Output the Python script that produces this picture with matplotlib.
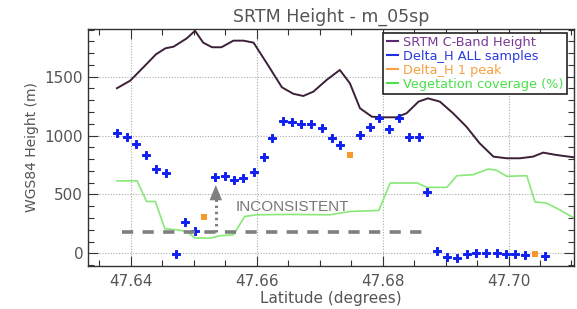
import matplotlib
matplotlib.use("Agg")
import matplotlib.pyplot as plt
from matplotlib.ticker import MultipleLocator
from matplotlib.lines import Line2D

# SRTM C-Band height (m)
srtm_lat = [47.6378, 47.6399, 47.6420, 47.6440, 47.6455, 47.6468, 47.6489, 47.6502,
            47.6515, 47.6529, 47.6544, 47.6563, 47.6579, 47.6595, 47.6616, 47.6640,
            47.6658, 47.6674, 47.6690, 47.6711, 47.6732, 47.6748, 47.6764, 47.6783,
            47.6801, 47.6822, 47.6838, 47.6857, 47.6872, 47.6891, 47.6912, 47.6933,
            47.6954, 47.6976, 47.6997, 47.7018, 47.7039, 47.7055, 47.7076, 47.7104]
srtm_h = [1402, 1466, 1580, 1690, 1741, 1755, 1826, 1890,
          1789, 1750, 1750, 1806, 1806, 1789, 1614, 1410,
          1355, 1336, 1373, 1472, 1557, 1444, 1232, 1160,
          1155, 1155, 1189, 1288, 1316, 1288, 1189, 1076,
          935, 821, 807, 807, 821, 855, 835, 815]

# Delta_H ALL samples
all_lat = [47.6378, 47.6394, 47.6408, 47.6424, 47.6440, 47.6456, 47.6471, 47.6486,
           47.6502, 47.6533, 47.6549, 47.6564, 47.6579, 47.6595, 47.6611, 47.6625,
           47.6641, 47.6656, 47.6671, 47.6687, 47.6703, 47.6719, 47.6733, 47.6764,
           47.6780, 47.6795, 47.6810, 47.6826, 47.6842, 47.6858, 47.6871, 47.6887,
           47.6903, 47.6918, 47.6934, 47.6949, 47.6965, 47.6981, 47.6996, 47.7011,
           47.7026, 47.7058]
all_h = [1020, 986, 929, 832, 716, 680, -6, 269,
         193, 646, 660, 623, 637, 694, 821, 977,
         1122, 1118, 1096, 1096, 1062, 977, 920, 1005,
         1076, 1147, 1053, 1147, 986, 991, 522, 22,
         -29, -42, -8, 0, 0, 0, -6, -6,
         -14, -23]

# Delta_H 1 peak
peak_lat = [47.6517, 47.6748, 47.7042]
peak_h = [306, 835, -6]

# Vegetation coverage (%), drawn on the height scale
veg_lat = [47.6378, 47.6410, 47.6425, 47.6439, 47.6454, 47.6473, 47.6489, 47.6502,
           47.6526, 47.6542, 47.6563, 47.6581, 47.6600, 47.6650, 47.6716, 47.6748,
           47.6794, 47.6812, 47.6855, 47.6870, 47.6902, 47.6918, 47.6944, 47.6968,
           47.6981, 47.6997, 47.7029, 47.7042, 47.7060, 47.7081, 47.7104]
veg_v = [615, 615, 440, 440, 208, 200, 185, 129,
         129, 149, 157, 313, 327, 330, 327, 355,
         364, 597, 597, 560, 560, 659, 668, 716,
         705, 654, 659, 436, 427, 370, 300]

# Inconsistent reference level
incons_lat = [47.6386, 47.6873]
incons_h = [183, 183]
arrow_lat = 47.6535
arrow_from = 183
arrow_to = 580

xticks = [47.64, 47.66, 47.68, 47.70]
xticklabels = ["47.64", "47.66", "47.68", "47.70"]
yticks = [0, 500, 1000, 1500]

fig = plt.figure(figsize=(5.77, 3.09), dpi=100)
ax = fig.add_axes([88/577, 43/309, 486/577, 237/309])

gray = "#555555"
ax.set_xlim(47.6332, 47.7104)
ax.set_ylim(-108, 1905)
ax.set_xticks(xticks)
ax.set_xticklabels(xticklabels)
ax.set_yticks(yticks)
ax.xaxis.set_minor_locator(MultipleLocator(0.005))
ax.yaxis.set_minor_locator(MultipleLocator(100))
ax.tick_params(which="both", direction="in", top=True, right=True, colors="#333333",
               labelcolor=gray, labelsize=11)
ax.tick_params(which="major", length=7, width=0.8)
ax.tick_params(which="minor", length=4, width=0.8)
ax.tick_params(axis="x", pad=6)
for s in ax.spines.values():
    s.set_color("#333333")
    s.set_linewidth(1.0)
ax.grid(True, which="major", color="#aaaaaa", linestyle=(0, (1, 1.5)), linewidth=0.8)

ax.plot(veg_lat, veg_v, color="#88e878", linewidth=1.2, zorder=2)
ax.plot(srtm_lat, srtm_h, color="#3c2038", linewidth=1.4, zorder=3)
ax.plot(all_lat, all_h, linestyle="none", marker="P", markersize=5.6,
        color="#1020f0", markeredgecolor="#1020f0", markeredgewidth=0.7, zorder=4)
ax.plot(peak_lat, peak_h, linestyle="none", marker="s", markersize=4.6,
        color="#f59a2a", markeredgewidth=0, zorder=4)

ax.plot(incons_lat, incons_h, color="#7f7f7f", linewidth=2.6,
        linestyle=(0, (3.1, 2.6)), zorder=5)
ax.plot([arrow_lat, arrow_lat], [arrow_from, arrow_to - 120], color="#7f7f7f",
        linewidth=2.2, linestyle=(0, (0.8, 1.2)), zorder=5)
ax.annotate("", xy=(arrow_lat, arrow_to), xytext=(arrow_lat, arrow_to - 140),
            arrowprops=dict(arrowstyle="-|>,head_length=1.1,head_width=0.45",
                            color="#7f7f7f", lw=0, shrinkA=0, shrinkB=0), zorder=5)
ax.text(47.6566, 393, "INCONSISTENT", color="#777777", fontsize=11,
        family=["Liberation Sans", "DejaVu Sans"], va="center", ha="left",
        zorder=5)

ax.set_title("SRTM Height - m_05sp", color=gray, fontsize=12.5, pad=5)
ax.set_xlabel("Latitude (degrees)", color=gray, fontsize=11, labelpad=1)
ax.set_ylabel("WGS84 Height (m)", color=gray, fontsize=10, labelpad=4)

handles = [Line2D([], [], color="#5a2a70", lw=1.5),
           Line2D([], [], color="#2030e0", lw=1.5),
           Line2D([], [], color="#f5a040", lw=1.5),
           Line2D([], [], color="#50e050", lw=1.5)]
labels = ["SRTM C-Band Height", "Delta_H ALL samples", "Delta_H 1 peak",
          "Vegetation coverage (%)"]
leg = ax.legend(handles, labels, loc="upper right", bbox_to_anchor=(0.986, 0.985),
                fontsize=9.3, handlelength=0.9, handletextpad=0.4, labelspacing=0.08,
                borderpad=0.25, frameon=True, fancybox=False, framealpha=1,
                borderaxespad=0)
leg.get_frame().set_edgecolor("#222222")
leg.get_frame().set_linewidth(1.2)
text_colors = ["#7a3a9a", "#2a3ae0", "#f5a040", "#48e048"]
for t, c in zip(leg.get_texts(), text_colors):
    t.set_color(c)

fig.savefig("out.png", dpi=100)
